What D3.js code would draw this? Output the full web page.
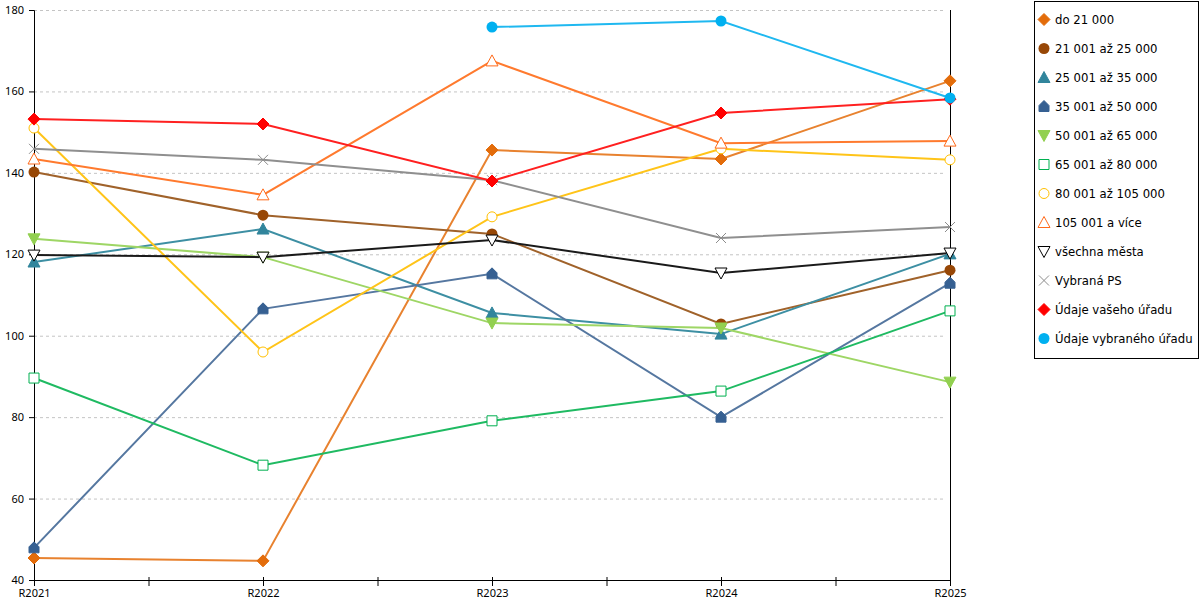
<!DOCTYPE html>
<html>
<head>
<meta charset="utf-8">
<style>
body { margin: 0; background: #fff; }
text { font-family: "DejaVu Sans", Verdana, sans-serif; }
.axis text { font-family: "Noto Sans", "DejaVu Sans", sans-serif; }
.axis .domain { stroke: #000; }
.grid line { stroke: #c4c4c4; stroke-dasharray: 3,3; }
.grid .domain { display: none; }
</style>
</head>
<body>
<svg width="1200" height="600" id="chart"></svg>
<script src="https://d3js.org/d3.v7.min.js"></script>
<script>
var years = ["R2021", "R2022", "R2023", "R2024", "R2025"];
var yTicks = [40, 60, 80, 100, 120, 140, 160, 180];

var seriesNames = ["do 21 000", "21 001 až 25 000", "25 001 až 35 000", "35 001 až 50 000",
  "50 001 až 65 000", "65 001 až 80 000", "80 001 až 105 000", "105 001 a více",
  "všechna města", "Vybraná PS", "Údaje vašeho úřadu", "Údaje vybraného úřadu"];

var do21 = [45.4, 44.7, 145.6, 143.4, 162.6];
var s21_25 = [140.2, 129.6, 125.0, 102.9, 116.1];
var s25_35 = [118.1, 126.2, 105.6, 100.4, 120.1];
var s35_50 = [47.9, 106.6, 115.2, 80.0, 112.9];
var s50_65 = [123.8, 119.3, 103.1, 101.9, 88.6];
var s65_80 = [89.6, 68.2, 79.1, 86.4, 106.1];
var s80_105 = [151.0, 96.0, 129.2, 145.9, 143.2];
var s105 = [143.4, 134.6, 167.5, 147.3, 147.8];
var vsechna = [119.8, 119.3, 123.5, 115.4, 120.3];
var vybranaPS = [145.9, 143.2, 138.2, 124.0, 126.7];
var vasUrad = [153.2, 152.0, 138.0, 154.7, 158.1];
var vybranyUrad = [null, null, 175.8, 177.3, 158.4];

var seriesValues = [do21, s21_25, s25_35, s35_50, s50_65, s65_80, s80_105, s105,
  vsechna, vybranaPS, vasUrad, vybranyUrad];

var colors = ["#e36c0a", "#974706", "#31859c", "#366092", "#92d050", "#00b050",
  "#ffc000", "#ff6a1a", "#000000", "#8c8c8c", "#ff0000", "#00b0f0"];
var lineColors = ["#e8822f", "#a0622a", "#3d8fa3", "#5577a0", "#9ed665", "#1fba62",
  "#ffc419", "#ff7a2e", "#1a1a1a", "#8f8f8f", "#ff2020", "#1fb8f0"];
var markers = ["diamond", "circle", "triangle", "house", "triangleDown", "squareOpen",
  "circleOpen", "triangleOpen", "triangleDownOpen", "cross", "diamond", "circle"];

var svg = d3.select("#chart");
var plotLeft = 34, plotRight = 950, plotTop = 10, plotBottom = 580;

var x = d3.scalePoint().domain(years).range([plotLeft, plotRight]);
var y = d3.scaleLinear().domain([40, 180]).range([plotBottom, plotTop]);

// grid
svg.append("g")
  .attr("class", "grid")
  .attr("transform", "translate(" + plotLeft + ",0)")
  .call(d3.axisRight(y).tickValues(yTicks.slice(1)).tickSize(plotRight - plotLeft - 5).tickFormat(""));

// left axis
svg.append("g")
  .attr("class", "axis")
  .attr("transform", "translate(" + plotLeft + ",0)")
  .call(d3.axisLeft(y).tickValues(yTicks).tickSizeOuter(0).tickSize(5).tickPadding(5))
  .call(function(g) { g.selectAll("text").attr("font-size", 11).attr("fill", "#000"); });

// right axis line
svg.append("line")
  .attr("x1", plotRight + 0.5).attr("x2", plotRight + 0.5)
  .attr("y1", plotTop).attr("y2", plotBottom)
  .attr("stroke", "#000");

// bottom axis
var xa = svg.append("g")
  .attr("class", "axis")
  .attr("transform", "translate(0," + plotBottom + ")")
  .call(d3.axisBottom(x).tickSizeOuter(0).tickSize(6).tickPadding(3));
xa.selectAll("text").attr("font-size", 11).attr("fill", "#000");
xa.selectAll(".tick line").attr("y1", -3);

// minor ticks between categories
var mids = years.slice(1).map(function(d, i) { return (x(years[i]) + x(d)) / 2; });
xa.selectAll(".minor").data(mids).enter().append("line")
  .attr("x1", function(d) { return d + 0.5; }).attr("x2", function(d) { return d + 0.5; })
  .attr("y1", -3).attr("y2", 6).attr("stroke", "#000");

function markerPath(type, s) {
  var h = s / 2;
  switch (type) {
    case "diamond": return "M0," + (-h - 1) + "L" + (h + 1) + ",0L0," + (h + 1) + "L" + (-h - 1) + ",0Z";
    case "triangle": case "triangleOpen":
      return "M0," + (-h - 1) + "L" + (h + 1) + "," + (h) + "L" + (-h - 1) + "," + (h) + "Z";
    case "triangleDown": case "triangleDownOpen":
      return "M0," + (h + 1) + "L" + (h + 1) + "," + (-h) + "L" + (-h - 1) + "," + (-h) + "Z";
    case "house": return "M0," + (-h - 1) + "L" + h + "," + (-h + 4) + "L" + h + "," + h + "L" + (-h) + "," + h + "L" + (-h) + "," + (-h + 4) + "Z";
    case "squareOpen": return "M" + (-h) + "," + (-h) + "h" + s + "v" + s + "h" + (-s) + "Z";
    case "cross": return "M" + (-h) + "," + (-h) + "L" + h + "," + h + "M" + h + "," + (-h) + "L" + (-h) + "," + h;
  }
  return null;
}

function drawMarker(g, type, color, s) {
  if (type === "circle") {
    g.append("circle").attr("r", s / 2 + 0.5).attr("fill", color);
  } else if (type === "circleOpen") {
    g.append("circle").attr("r", s / 2).attr("fill", "#fff").attr("stroke", color).attr("stroke-width", 1);
  } else {
    var open = /Open|cross/.test(type);
    g.append("path").attr("d", markerPath(type, s))
      .attr("fill", open ? (type === "cross" ? "none" : "#fff") : color)
      .attr("stroke", color).attr("stroke-width", 1);
  }
}

var line = d3.line()
  .defined(function(d) { return d != null; })
  .x(function(d, i) { return x(years[i]); })
  .y(function(d) { return y(d); });

seriesValues.forEach(function(vals, k) {
  svg.append("path")
    .attr("d", line(vals))
    .attr("fill", "none")
    .attr("stroke", lineColors[k])
    .attr("stroke-width", 2);
});

seriesValues.forEach(function(vals, k) {
  vals.forEach(function(v, i) {
    if (v == null) return;
    var g = svg.append("g").attr("transform", "translate(" + x(years[i]) + "," + y(v) + ")");
    drawMarker(g, markers[k], colors[k], 10);
  });
});

// legend
svg.append("rect")
  .attr("x", 1034.5).attr("y", 1.5).attr("width", 164).attr("height", 357)
  .attr("fill", "#fff").attr("stroke", "#000");

var legend = svg.append("g").selectAll("g")
  .data(seriesNames)
  .enter().append("g")
  .attr("transform", function(d, i) { return "translate(1044," + (19.5 + i * 29) + ")"; });

legend.each(function(d, i) { drawMarker(d3.select(this), markers[i], colors[i], 10); });

legend.append("text")
  .attr("x", 11)
  .attr("dy", "0.35em")
  .attr("font-size", 11.7)
  .attr("fill", "#000")
  .text(function(d) { return d; });
</script>
</body>
</html>
